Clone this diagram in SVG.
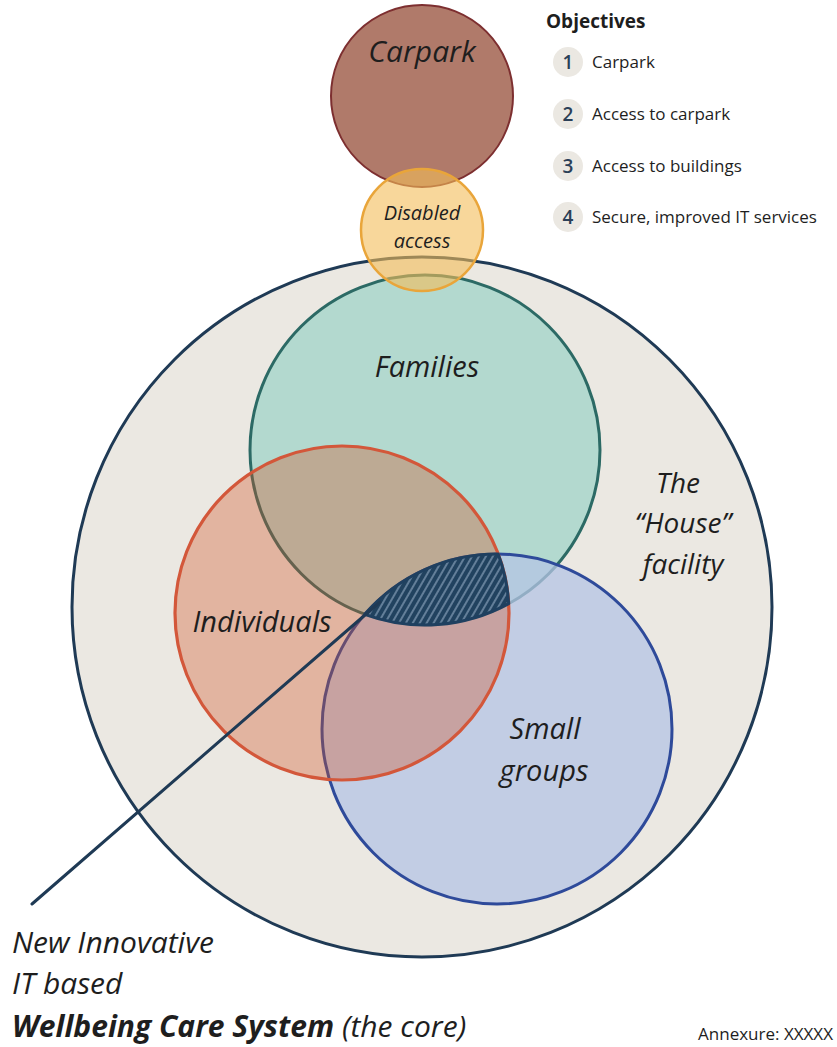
<svg xmlns="http://www.w3.org/2000/svg" width="837" height="1047" viewBox="0 0 837 1047">
<style>
.lbl{font-family:"Open Sans","Noto Sans","DejaVu Sans",sans-serif;font-style:italic;fill:#1e1e1e;text-anchor:middle}
.leg{font-family:"Open Sans","Noto Sans","DejaVu Sans",sans-serif;fill:#1e1e1e;font-size:17px}
.num{font-family:"Open Sans","Noto Sans","DejaVu Sans",sans-serif;fill:#2b3f57;font-size:19px;font-weight:600;text-anchor:middle}
.numbg{fill:#ebe8e2}
.bot{font-family:"Open Sans","Noto Sans","DejaVu Sans",sans-serif;font-style:italic;fill:#1e1e1e;font-size:30px}
</style>
<defs>
<pattern id="hatch" patternUnits="userSpaceOnUse" width="6" height="6" patternTransform="rotate(30)">
<rect width="6" height="6" fill="#21425f"/>
<line x1="3" y1="0" x2="3" y2="6" stroke="#8fa7c0" stroke-width="1.2"/>
</pattern>
</defs>
<rect width="837" height="1047" fill="#ffffff"/>

<g id="house">
<circle cx="422" cy="607" r="350" fill="#ebe8e2" stroke="#1f3a55" stroke-width="3"/>
</g>
<g id="families">
<circle cx="425" cy="450" r="175" fill="#b3d9cf" stroke="#2c6a65" stroke-width="3"/>
</g>
<g id="small-groups">
<circle cx="497" cy="729" r="175" fill="#b4c4e4" fill-opacity="0.75" stroke="#2e4a9a" stroke-width="3"/>
</g>
<g id="individuals">
<circle cx="342" cy="613" r="167" fill="#d15325" fill-opacity="0.35" stroke="#d3573a" stroke-width="3.2"/>
</g>
<g id="core">
<path d="M364.7,614.3 A175,175 0 0 1 498.2,554 A167,167 0 0 1 508.7,603.6 A175,175 0 0 1 364.7,614.3 Z" fill="url(#hatch)" stroke="#1f4060" stroke-width="3" stroke-linejoin="round"/>
</g>
<g id="carpark">
<circle cx="422" cy="96" r="91" fill="#b07a6a" stroke="#7d2f30" stroke-width="2"/>
</g>
<g id="disabled-access">
<circle cx="422" cy="230" r="61" fill="#f4bc58" fill-opacity="0.6" stroke="#e9a53a" stroke-width="2.5"/>
</g>

<g id="connectors">
<line x1="32" y1="904" x2="380" y2="602" stroke="#1f3a55" stroke-width="3" stroke-linecap="round"/>
</g>

<g id="labels">
<text class="lbl" x="422" y="62" font-size="30">Carpark</text>
<text class="lbl" x="422" y="220" font-size="20">Disabled</text>
<text class="lbl" x="422" y="248" font-size="20">access</text>
<text class="lbl" x="427" y="377" font-size="29">Families</text>
<text class="lbl" x="262" y="632" font-size="29">Individuals</text>
<text class="lbl" x="545" y="739" font-size="29">Small</text>
<text class="lbl" x="544" y="781" font-size="29">groups</text>
<text class="lbl" x="678" y="493" font-size="28">The</text>
<text class="lbl" x="683" y="533" font-size="28">“House”</text>
<text class="lbl" x="683" y="574" font-size="28">facility</text>
</g>

<g id="objectives">
<text x="546" y="28" font-family="Open Sans, Noto Sans, sans-serif" font-weight="700" font-size="19" fill="#1e1e1e">Objectives</text>
<circle class="numbg" cx="568" cy="62" r="15"/>
<text class="num" x="568" y="69">1</text>
<text class="leg" x="592" y="68">Carpark</text>
<circle class="numbg" cx="568" cy="114" r="15"/>
<text class="num" x="568" y="121">2</text>
<text class="leg" x="592" y="120">Access to carpark</text>
<circle class="numbg" cx="568" cy="166" r="15"/>
<text class="num" x="568" y="173">3</text>
<text class="leg" x="592" y="172">Access to buildings</text>
<circle class="numbg" cx="568" cy="217" r="15"/>
<text class="num" x="568" y="224">4</text>
<text class="leg" x="592" y="223">Secure, improved IT services</text>
</g>

<g id="core-caption">
<text class="bot" x="12" y="953">New Innovative</text>
<text class="bot" x="12" y="994">IT based</text>
<text class="bot" x="12" y="1037"><tspan font-weight="700">Wellbeing Care System</tspan> (the core)</text>
</g>
<text x="833" y="1040" text-anchor="end" font-family="Open Sans, Noto Sans, sans-serif" font-size="17" fill="#1e1e1e">Annexure: XXXXX</text>
</svg>
